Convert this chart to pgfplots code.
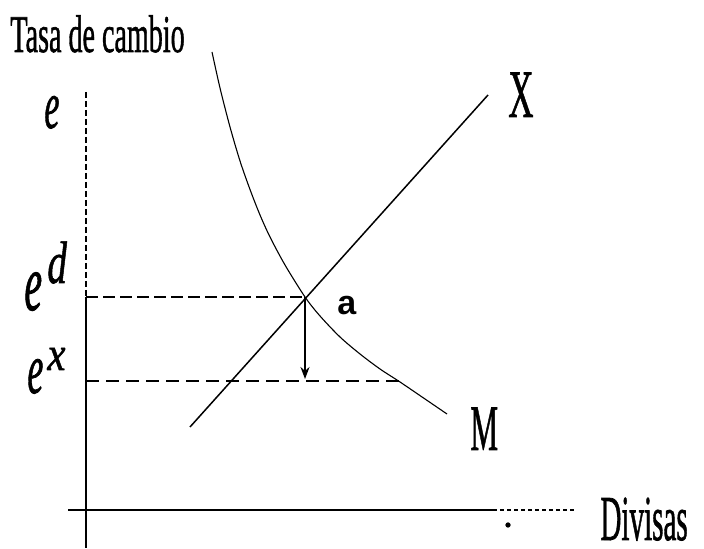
\documentclass[border=0pt]{standalone}
\usepackage{pgfplots}
\pgfplotsset{compat=1.18}
\usepackage{fontspec}
\setmainfont{Liberation Serif}
\newfontfamily\heavy{Liberation Serif}[FakeBold=1.2]
\newfontfamily\sansbold{Liberation Sans}[BoldFont={Liberation Sans Bold}]
\usepackage{graphicx}
\usetikzlibrary{arrows.meta}
\newcommand{\lab}[3]{\scalebox{#1}[1]{\fontsize{#2}{#2}\selectfont #3}}
\begin{document}
\begin{tikzpicture}
\begin{axis}[scale only axis, width=352pt, height=274pt,
  xmin=0, xmax=704, ymin=0, ymax=548, hide axis, clip=false]
\path (rel axis cs:0,0) rectangle (rel axis cs:1,1);
% axes
\addplot[black, line width=0.6pt, dash pattern=on 3pt off 1.5pt] coordinates {(86,456) (86,251)};
\addplot[black, line width=1pt] coordinates {(86,251) (86,0)};
\addplot[black, line width=1pt] coordinates {(68,38) (493,38)};
\addplot[black, line width=0.8pt, dash pattern=on 2pt off 1.5pt] coordinates {(493,38) (575,38)};
% X line
\addplot[black, line width=0.75pt] coordinates {(190,121) (488,453)};
% M curve
\addplot[black, line width=0.55pt, smooth] coordinates {
(212,496) (220,460) (230,421) (240,387) (250,358.5) (260,333) (270,311)
(285,283) (305,251) (320,232) (340,211) (360,194) (380,179) (400,166)
(425,149) (447,134)};
% dashed guides
\addplot[black, line width=0.75pt, dash pattern=on 6pt off 2.5pt] coordinates {(86,251) (305,251)};
\addplot[black, line width=1.3pt, dash pattern=on 6.5pt off 3.5pt] coordinates {(86,167) (400,167)};
% arrow
\addplot[black, line width=1pt, -{Stealth[length=6pt,width=4.5pt]}] coordinates {(305,251) (305,169)};
% stray dot
\addplot[only marks, mark=*, mark size=1.1pt, black] coordinates {(508,23)};
% labels
\node[anchor=base west, inner sep=0pt] at (axis cs:10,496) {\lab{0.53}{26.5}{\heavy Tasa de cambio}};
\node[anchor=base west, inner sep=0pt] at (axis cs:44,420) {\lab{0.5}{34}{\heavy\itshape e}};
\node[anchor=base west, inner sep=0pt] at (axis cs:24,238) {\lab{0.5}{40}{\heavy\itshape e}};
\node[anchor=base west, inner sep=0pt] at (axis cs:47,265) {\lab{0.65}{30}{\heavy\itshape d}};
\node[anchor=base west, inner sep=0pt] at (axis cs:27,155) {\lab{0.5}{36}{\heavy\itshape e}};
\node[anchor=base west, inner sep=0pt] at (axis cs:47,178) {\lab{0.85}{24}{\heavy\itshape x}};
\node[anchor=base west, inner sep=0pt] at (axis cs:337,233) {\lab{1}{17}{\sansbold\bfseries a}};
\node[anchor=base west, inner sep=0pt] at (axis cs:508,431) {\lab{0.51}{34}{\heavy X}};
\node[anchor=base west, inner sep=0pt] at (axis cs:470,98) {\lab{0.48}{32.5}{\heavy M}};
\node[anchor=base west, inner sep=0pt] at (axis cs:600,8) {\lab{0.455}{32}{\heavy Divisas}};
\end{axis}
\end{tikzpicture}
\end{document}
